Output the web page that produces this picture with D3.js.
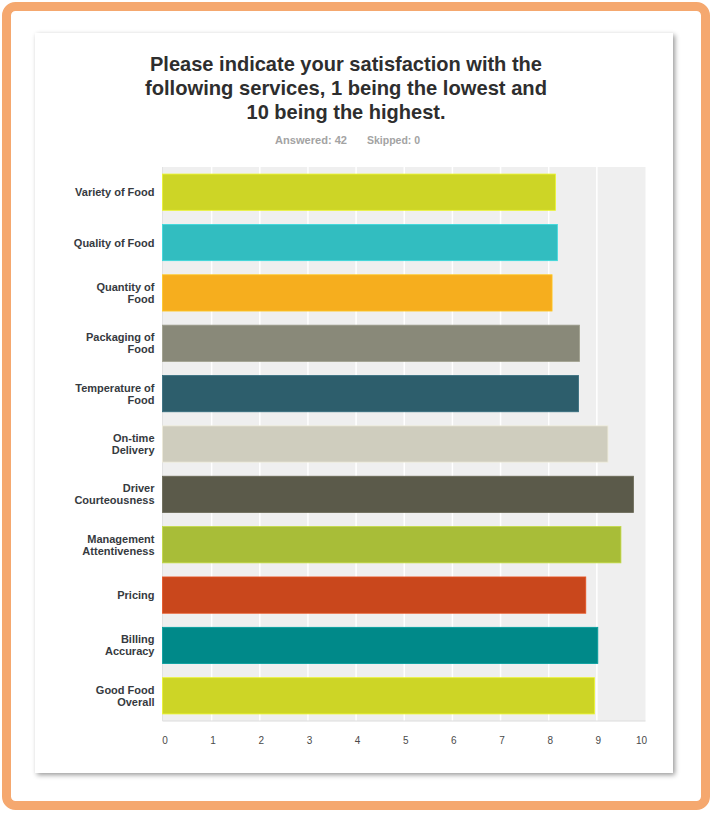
<!DOCTYPE html>
<html>
<head>
<meta charset="utf-8">
<script src="https://cdn.jsdelivr.net/npm/d3@7"></script>
<style>
  html, body { margin: 0; padding: 0; background: #ffffff; }
  svg { display: block; }
</style>
</head>
<body>
<div id="chart"></div>
<script>
// ---- data ----
const categories = [
  ["Variety of Food"],
  ["Quality of Food"],
  ["Quantity of", "Food"],
  ["Packaging of", "Food"],
  ["Temperature of", "Food"],
  ["On-time", "Delivery"],
  ["Driver", "Courteousness"],
  ["Management", "Attentiveness"],
  ["Pricing"],
  ["Billing", "Accuracy"],
  ["Good Food", "Overall"]
];
const values = [8.14, 8.18, 8.07, 8.64, 8.62, 9.23, 9.76, 9.50, 8.77, 9.02, 8.95];
const colors = ["#cdd526", "#32bdc0", "#f6ae1e", "#898979", "#2d5e6c", "#cfcdbe",
                "#5b5a4a", "#a8bd38", "#c9471c", "#008989", "#cdd526"];
const tickValues = [0, 1, 2, 3, 4, 5, 6, 7, 8, 9, 10];
const titleLines = [
  "Please indicate your satisfaction with the",
  "following services, 1 being the lowest and",
  "10 being the highest."
];
const answeredText = "Answered: 42";
const skippedText = "Skipped: 0";

// ---- layout ----
const W = 711, H = 813;
const svg = d3.select("#chart").append("svg").attr("width", W).attr("height", H);

const defs = svg.append("defs");
const f = defs.append("filter").attr("id", "shadow")
  .attr("x", "-5%").attr("y", "-5%").attr("width", "110%").attr("height", "110%");
f.append("feDropShadow").attr("dx", 2).attr("dy", 2).attr("stdDeviation", 2.5)
  .attr("flood-color", "#000").attr("flood-opacity", 0.4);

// orange frame
svg.append("rect").attr("x", 6.5).attr("y", 6.5).attr("width", 699).attr("height", 799)
  .attr("rx", 9).attr("fill", "#ffffff").attr("stroke", "#f5a86f").attr("stroke-width", 9);

// card
svg.append("rect").attr("x", 35).attr("y", 33).attr("width", 638).attr("height", 740)
  .attr("fill", "#ffffff").attr("filter", "url(#shadow)");

// title
const titleWidths = [392, 402, 199];
const titleBase = [71, 95, 118.5];
titleLines.forEach((t, i) => {
  svg.append("text").attr("x", 346).attr("y", titleBase[i])
    .attr("text-anchor", "middle")
    .attr("font-family", "'Liberation Sans', Arial, sans-serif")
    .attr("font-weight", "bold").attr("font-size", 21)
    .attr("fill", "#2e2e2e")
    .attr("textLength", titleWidths[i]).attr("lengthAdjust", "spacingAndGlyphs")
    .text(t);
});

// subtitle
svg.append("text").attr("x", 275).attr("y", 143.5)
  .attr("font-family", "'Liberation Sans', Arial, sans-serif")
  .attr("font-weight", "bold").attr("font-size", 10.5).attr("fill", "#a3a3a3")
  .attr("textLength", 72).attr("lengthAdjust", "spacingAndGlyphs")
  .text(answeredText);
svg.append("text").attr("x", 367).attr("y", 143.5)
  .attr("font-family", "'Liberation Sans', Arial, sans-serif")
  .attr("font-weight", "bold").attr("font-size", 10.5).attr("fill", "#a3a3a3")
  .text(skippedText);

// plot
const plotLeft = 162.5, plotRight = 645.5, plotTop = 167, plotBottom = 721;
const x = d3.scaleLinear().domain([0, 10]).range([163.5, 645]);
const y = d3.scaleBand().domain(d3.range(categories.length))
  .range([plotTop, plotBottom]).paddingInner(0.28).paddingOuter(0.14);

svg.append("rect").attr("x", plotLeft).attr("y", plotTop)
  .attr("width", plotRight - plotLeft).attr("height", plotBottom - plotTop)
  .attr("fill", "#efefef");

// gridlines
svg.append("g").selectAll("line").data(tickValues.filter(v => v > 0 && v < 10)).join("line")
  .attr("x1", d => x(d)).attr("x2", d => x(d))
  .attr("y1", plotTop).attr("y2", plotBottom)
  .attr("stroke", "#ffffff").attr("stroke-width", 1.5);

svg.append("line").attr("x1", plotLeft).attr("x2", plotRight)
  .attr("y1", plotBottom).attr("y2", plotBottom)
  .attr("stroke", "#dcdcdc").attr("stroke-width", 1);
svg.append("line").attr("x1", plotLeft).attr("x2", plotLeft)
  .attr("y1", plotTop).attr("y2", plotBottom)
  .attr("stroke", "#e2e2e2").attr("stroke-width", 1);

// bars
svg.append("g").selectAll("rect").data(values).join("rect")
  .attr("x", plotLeft)
  .attr("y", (d, i) => y(i))
  .attr("width", d => x(d) - plotLeft)
  .attr("height", y.bandwidth())
  .attr("fill", (d, i) => colors[i])
  .attr("stroke", (d, i) => d3.color(colors[i]).brighter(0.4))
  .attr("stroke-width", 0.8);

// category labels
const lab = svg.append("g")
  .attr("font-family", "'Liberation Sans', Arial, sans-serif")
  .attr("font-weight", "bold").attr("font-size", 11).attr("fill", "#363a40");
categories.forEach((lines, i) => {
  const cy = y(i) + y.bandwidth() / 2;
  const lh = 12;
  const t = lab.append("text").attr("text-anchor", "end");
  lines.forEach((ln, j) => {
    t.append("tspan").attr("x", 154.5)
      .attr("y", cy + 4 + (j - (lines.length - 1) / 2) * lh)
      .text(ln);
  });
});

// x axis tick labels
const axis = d3.axisBottom(x).tickValues(tickValues).tickSize(0).tickPadding(0);
const ax = svg.append("g").attr("transform", `translate(0, 744)`).call(axis);
ax.select(".domain").remove();
ax.selectAll("text")
  .attr("font-family", "'Liberation Sans', Arial, sans-serif")
  .attr("font-size", 10).attr("fill", "#4a4a4a")
  .attr("dy", 0)
  .attr("dx", d => d === 10 ? -4 : 1);
</script>
</body>
</html>
